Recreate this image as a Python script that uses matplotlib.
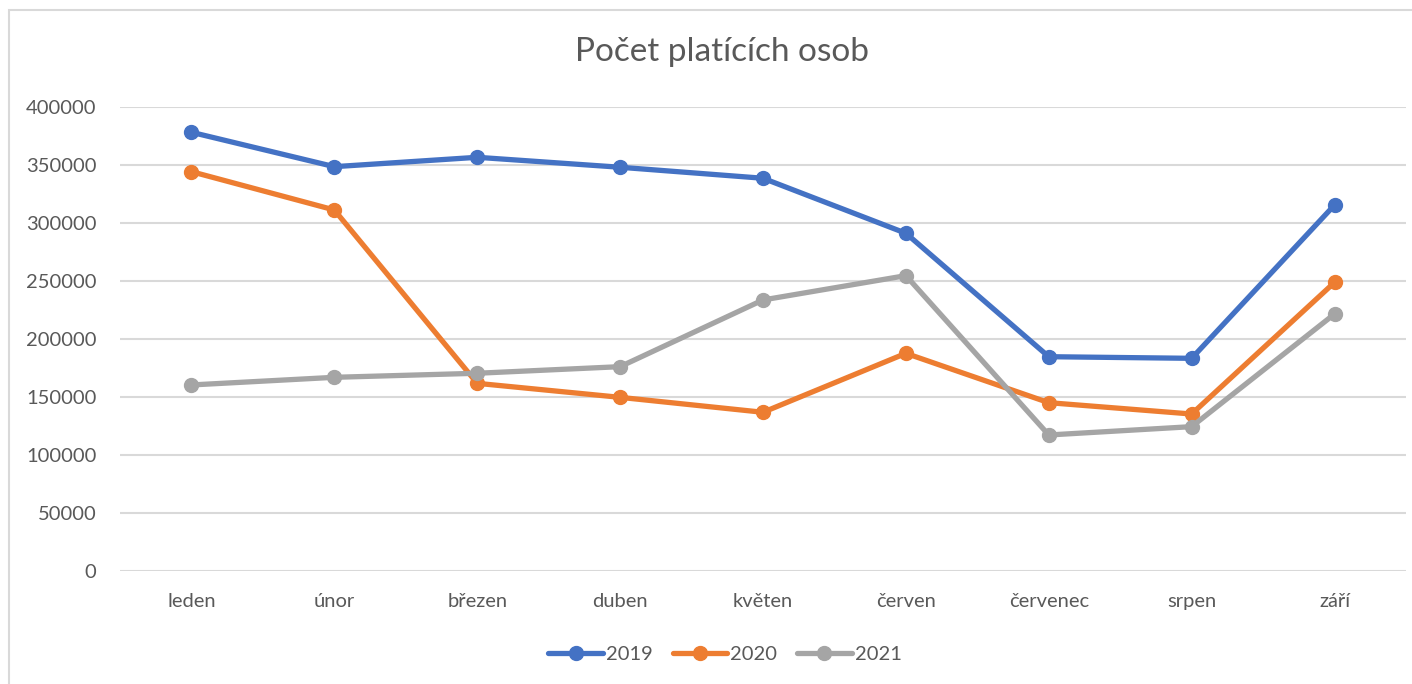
import matplotlib
matplotlib.use("Agg")
import matplotlib.pyplot as plt
from matplotlib.patches import Rectangle

months = ["leden", "únor", "březen", "duben", "květen", "červen", "červenec", "srpen", "září"]
s2019 = [378600, 348900, 357000, 348400, 338900, 291400, 184800, 183400, 315800]
s2020 = [344600, 311500, 161800, 149700, 136800, 187700, 145100, 135300, 249000]
s2021 = [160400, 167000, 170500, 176200, 233800, 254800, 117200, 124400, 221700]
yticks = [0, 50000, 100000, 150000, 200000, 250000, 300000, 350000, 400000]

series = [("2019", s2019, "#4472C4"), ("2020", s2020, "#ED7D31"), ("2021", s2021, "#A5A5A5")]

plt.rcParams['font.family'] = ['Lato', 'DejaVu Sans']
txt = "#595959"

fig = plt.figure(figsize=(14.12, 6.84), dpi=100)
ax = fig.add_axes([120/1412, 1-570.7/684, (1406-120)/1412, (570.7-107.5)/684])

x = list(range(len(months)))
for name, vals, col in series:
    ax.plot(x, vals, color=col, lw=3.8, marker='o', ms=10, label=name,
            solid_capstyle='round', solid_joinstyle='round', zorder=3)

ax.set_xlim(-0.5, len(months) - 0.5)
ax.set_ylim(0, 400000)
ax.set_yticks(yticks)
ax.set_yticklabels([str(v) for v in yticks])
ax.set_xticks(x)
ax.set_xticklabels(months)
ax.tick_params(axis='both', length=0, labelcolor=txt, labelsize=14.5)
ax.tick_params(axis='y', pad=17)
ax.tick_params(axis='x', pad=16)
ax.grid(axis='y', color='#D9D9D9', lw=1.5, zorder=0)
ax.set_axisbelow(True)
for s in ax.spines.values():
    s.set_visible(False)

fig.text(722/1412, 1-52/684, "Počet platících osob", ha='center', va='center',
         fontsize=24, color=txt)

fig.legend(loc='center', bbox_to_anchor=(725/1412, 1-654/684), ncol=3, frameon=False,
           fontsize=14.5, labelcolor=txt, handlelength=2.7, handletextpad=0.15,
           columnspacing=1.0)

fig.patches.append(Rectangle((9/1412, -0.01), 1.1, 1-10/684+0.01, transform=fig.transFigure,
                             fill=False, edgecolor='#D9D9D9', lw=1.5))

fig.savefig("out.png", dpi=100)
